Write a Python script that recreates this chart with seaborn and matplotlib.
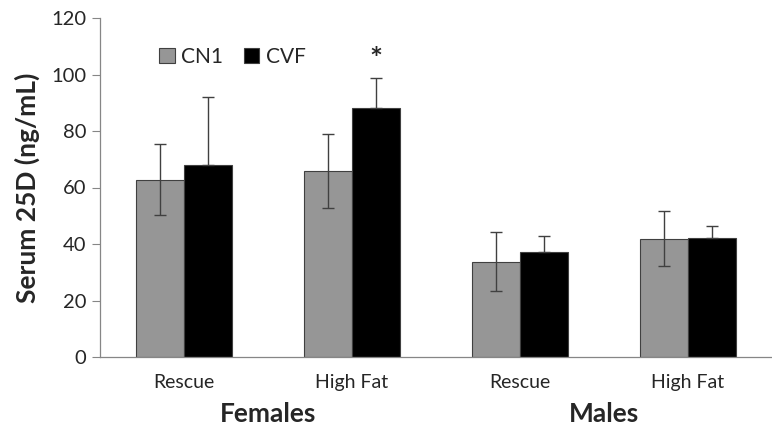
import matplotlib
matplotlib.use("Agg")
import matplotlib.pyplot as plt
import seaborn as sns
import pandas as pd
import numpy as np

# Data
categories = ["Rescue", "High Fat", "Rescue ", "High Fat "]
cat_labels = ["Rescue", "High Fat", "Rescue", "High Fat"]
groups = ["Females", "Males"]
cn1_values = [62.7, 65.7, 33.8, 41.9]
cn1_errors = [12.6, 13.1, 10.6, 9.7]
cvf_values = [67.8, 88.0, 37.3, 42.2]
cvf_errors = [24.4, 10.6, 5.5, 4.0]
series = ["CN1", "CVF"]

df = pd.DataFrame({
    "cat": categories * 2,
    "series": ["CN1"] * 4 + ["CVF"] * 4,
    "value": cn1_values + cvf_values,
})

sns.set_style("white")
plt.rcParams["font.family"] = ["Lato", "DejaVu Sans"]

fig = plt.figure(figsize=(7.72, 4.32), dpi=100)
ax = fig.add_axes([100 / 772, 1 - 357 / 432, 1 - 100 / 772, (357 - 18) / 432])

palette = {"CN1": "#969696", "CVF": "#000000"}
sns.barplot(data=df, x="cat", y="value", hue="series", order=categories,
            hue_order=series, palette=palette, width=0.57, gap=0,
            edgecolor="#404040", linewidth=0.8, errorbar=None, ax=ax,
            saturation=1)

# error bars from bar positions (lower half hidden behind black bars)
errs = {"CN1": cn1_errors, "CVF": cvf_errors}
vals = {"CN1": cn1_values, "CVF": cvf_values}
for cont, s in zip(ax.containers, series):
    xs = [p.get_x() + p.get_width() / 2 for p in cont.patches]
    e = np.array(errs[s])
    yerr = e if s == "CN1" else [np.zeros_like(e), e]
    ax.errorbar(xs, vals[s], yerr=yerr, fmt="none", ecolor="#404040",
                elinewidth=1, capsize=4, capthick=1, zorder=5)

# significance star above Females High Fat CVF
p = ax.containers[1].patches[1]
ax.text(p.get_x() + p.get_width() / 2, vals["CVF"][1] + errs["CVF"][1] + 1.5, "*",
        ha="center", va="bottom", fontsize=22, fontweight="bold")

ax.set_ylim(0, 120)
ax.set_xlim(-0.5, 3.46)
ax.set_yticks(np.arange(0, 121, 20))
ax.set_yticklabels([str(v) for v in range(0, 121, 20)], fontsize=14.5)
ax.set_xticks(range(4))
ax.set_xticklabels(cat_labels, fontsize=14)
ax.set_xticks([-0.5, 0.5, 1.5, 2.5, 3.5], minor=True)
ax.tick_params(axis="x", which="major", length=0, pad=12)
ax.tick_params(axis="x", which="minor", length=6, width=0.8, color="#868686", direction="out")
ax.tick_params(axis="y", length=6, width=0.8, color="#868686", direction="out", left=True, pad=4)
ax.set_xlabel("")
ax.set_ylabel("Serum 25D (ng/mL)", fontsize=19, fontweight="bold", labelpad=8)

for side in ["top", "right"]:
    ax.spines[side].set_visible(False)
for side in ["left", "bottom"]:
    ax.spines[side].set_color("#868686")
    ax.spines[side].set_linewidth(0.9)

# group labels
trans = ax.get_xaxis_transform()
ax.text(0.5, -0.168, groups[0], transform=trans, ha="center", va="center",
        fontsize=19, fontweight="bold")
ax.text(2.5, -0.168, groups[1], transform=trans, ha="center", va="center",
        fontsize=19, fontweight="bold")

leg = ax.legend(loc="upper left", bbox_to_anchor=(0.06, 0.97), ncol=2, frameon=False,
                fontsize=15, handlelength=0.75, handleheight=0.75, handletextpad=0.3,
                columnspacing=1.0, title=None)

fig.savefig("out.png", dpi=100)
